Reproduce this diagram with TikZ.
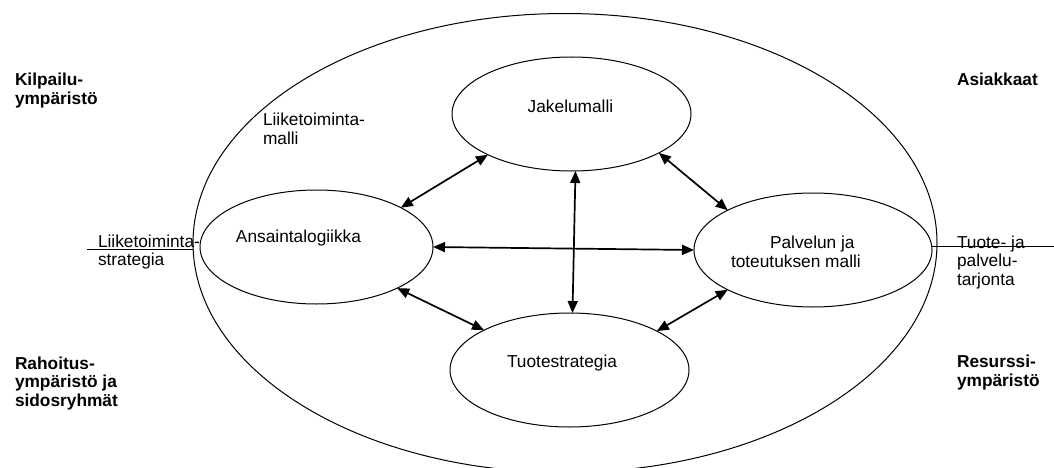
\documentclass[tikz,border=0pt]{standalone}
\usepackage{fontspec}
\setmainfont{Liberation Sans}
\usetikzlibrary{arrows.meta,shapes.geometric}
\begin{document}
\begin{tikzpicture}[x=1pt,y=-1pt,
  txt/.style={font=\fontsize{17.3}{18.5}\selectfont, inner sep=0pt, outer sep=0pt},
  boldtxt/.style={txt, font=\fontsize{17.3}{18.5}\selectfont\bfseries},
  oval/.style={draw, ellipse, line width=1pt, inner sep=0pt, outer sep=0pt},
  link/.style={{Triangle[length=12pt,width=10pt]}-{Triangle[length=12pt,width=10pt]}, line width=1.7pt},
  sideline/.style={line width=0.9pt}]

\useasboundingbox (0,0) rectangle (1054,468);

% outer business model and its four parts
\node[oval, minimum width=744pt, minimum height=459pt] (model) at (565,243) {};
\node[oval, minimum width=239pt, minimum height=114pt] (jak) at (571.5,114) {};
\node[oval, minimum width=233pt, minimum height=114pt] (ans) at (316.5,247) {};
\node[oval, minimum width=238pt, minimum height=114pt] (pal) at (813,250) {};
\node[oval, minimum width=239pt, minimum height=114pt] (tuo) at (569.5,370) {};

% labels inside the ovals (multi-line nodes are placed by their last baseline)
\node[txt, anchor=base] (jakt) at (570.5,113) {Jakelumalli};
\node[txt, anchor=base] (anst) at (298.5,242) {Ansaintalogiikka};
\node[txt, anchor=base west, align=left] (palt) at (731,267) {\hspace*{39pt}Palvelun ja\\toteutuksen malli};
\node[txt, anchor=base] (tuot) at (562,367.5) {Tuotestrategia};
\node[txt, anchor=base west, align=left] (mallit) at (263,144.3) {Liiketoiminta-\\malli};

% inputs and outputs
\node[txt, anchor=base west, align=left] (strat) at (98,265.5) {Liiketoiminta-\\strategia};
\node[txt, anchor=base west, align=left] (tarj) at (957,285) {Tuote- ja\\palvelu-\\tarjonta};

% surrounding environments
\node[boldtxt, anchor=base west, align=left] (kilp) at (15,104.3) {Kilpailu-\\ympäristö};
\node[boldtxt, anchor=base west] (asia) at (957,86) {Asiakkaat};
\node[boldtxt, anchor=base west, align=left] (raho) at (15,406) {Rahoitus-\\ympäristö ja\\sidosryhmät};
\node[boldtxt, anchor=base west, align=left] (resu) at (957,386) {Resurssi-\\ympäristö};

% strategy in, offering out
\coordinate (lend) at (87,249);
\draw[sideline] (lend) -- (lend -| model.west);
\coordinate (rend) at (1054,246);
\draw[sideline] (pal.east |- rend) -- (rend);

% interactions between the parts
\draw[link] (jak.206.4) -- (ans.25.6);
\draw[link] (jak.336) -- (pal.155.1);
\draw[link] (jak.274.5) -- (tuo.87.5);
\draw[link] (ans.east) -- (pal.west);
\draw[link] (ans.333.3) -- (tuo.155.7);
\draw[link] (tuo.24.5) -- (pal.205.5);
\end{tikzpicture}
\end{document}
